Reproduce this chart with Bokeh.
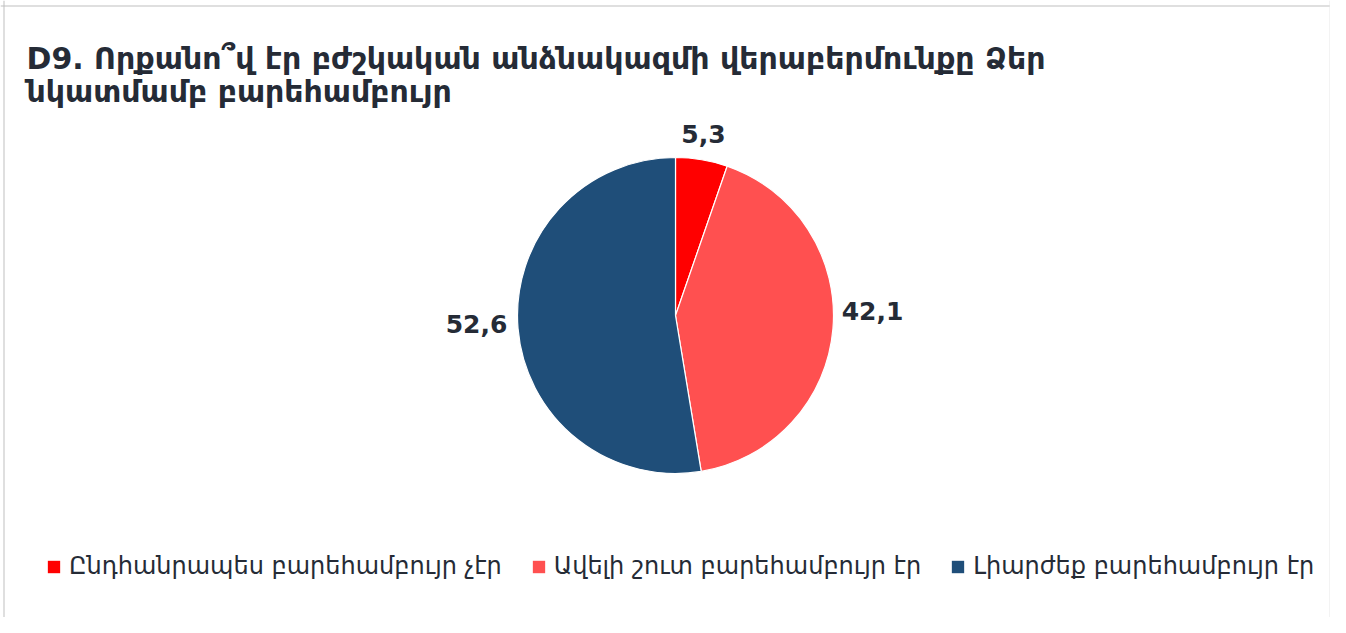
import numpy as np
from bokeh.plotting import figure
from bokeh.models import Label, Legend, LegendItem, Span, ColumnDataSource
from bokeh.embed import file_html
from bokeh.resources import INLINE

# ---- data ----
categories = ["Ընդհանրապես բարեհամբույր չէր",
              "Ավելի շուտ բարեհամբույր էր",
              "Լիարժեք բարեհամբույր էր"]
shares = [5.3, 42.1, 52.6]
share_labels = ["5,3", "42,1", "52,6"]
colors = ["#FF0000", "#FF5050", "#1F4E79"]
title_lines = [" D9. Որքանո՞վ էր բժշկական անձնակազմի վերաբերմունքը Ձեր",
               "նկատմամբ բարեհամբույր"]

W, H = 1330, 617
TEXT = "#252b36"
FONT = "DejaVu Sans"

p = figure(width=W, height=H, x_range=(0, W), y_range=(0, H),
           output_backend="svg", toolbar_location=None,
           x_axis_type=None, y_axis_type=None, min_border=0)
p.grid.visible = False
p.outline_line_color = None
p.background_fill_color = "white"
p.border_fill_color = "white"

def Y(ref_y):  # picture y (from top) -> data y
    return H - ref_y

def X(ref_x):
    return ref_x

# ---- pie ----
cx, cy, R = X(675), Y(315), 158
vals = np.array(shares)
frac = vals / vals.sum()
cum = np.concatenate([[0], np.cumsum(frac)])
start = np.pi / 2 - cum[:-1] * 2 * np.pi
end = np.pi / 2 - cum[1:] * 2 * np.pi

items = []
for i, cat in enumerate(categories):
    src = ColumnDataSource(dict(x=[cx], y=[cy], s=[start[i]], e=[end[i]]))
    r = p.wedge(x="x", y="y", radius=R, start_angle="s", end_angle="e",
                direction="clock", source=src, fill_color=colors[i],
                line_color="white", line_width=1.2)
    items.append(LegendItem(label=cat, renderers=[r]))

# ---- data labels ----
label_pos = [(X(703), Y(133)), (X(872), Y(310)), (X(476), Y(323))]
for (lx, ly), t in zip(label_pos, share_labels):
    p.add_layout(Label(x=lx, y=ly, text=t, text_align="center",
                       text_baseline="middle", text_font=FONT,
                       text_font_style="bold", text_font_size="25px",
                       text_color=TEXT))

# ---- title ----
p.add_layout(Label(x=X(26), y=Y(58), text=title_lines[0], text_font=FONT,
                   text_font_style="bold", text_font_size="30px",
                   text_color=TEXT, text_baseline="alphabetic"))
p.add_layout(Label(x=X(26), y=Y(91), text=title_lines[1], text_font=FONT,
                   text_font_style="bold", text_font_size="30px",
                   text_color=TEXT, text_baseline="alphabetic"))

# ---- legend ----
legend = Legend(items=items, orientation="horizontal", location=(45, 37),
                label_text_font=FONT, label_text_font_size="24px",
                label_text_color=TEXT, glyph_width=17, glyph_height=17,
                label_standoff=7, spacing=28, padding=0, margin=0,
                border_line_color=None, background_fill_alpha=0)
p.add_layout(legend, "center")

# ---- frame border (top, left, right) ----
p.add_layout(Span(location=Y(5.5), dimension="width", line_color="#bfbfbf", line_width=1))
p.add_layout(Span(location=X(3.5), dimension="height", line_color="#bfbfbf", line_width=1))
p.add_layout(Span(location=W - 0.5, dimension="height", line_color="#e6e6e6", line_width=1))

open("out.html", "w").write(file_html(p, INLINE))
